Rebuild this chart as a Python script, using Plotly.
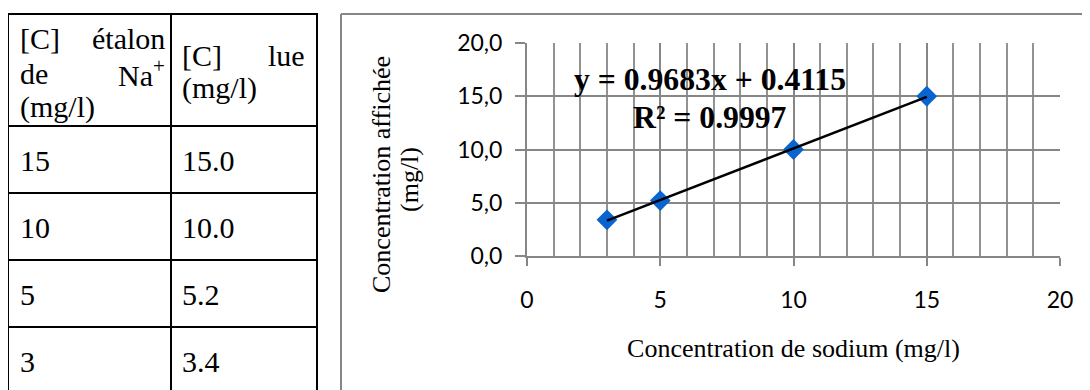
import numpy as np
import plotly.graph_objects as go

# ---------------- data ----------------
etalon = [15, 10, 5, 3]            # [C] étalon de Na+ (mg/l)
lue = [15.0, 10.0, 5.2, 3.4]       # [C] lue (mg/l)
x_ticks = [0, 5, 10, 15, 20]
y_ticks = [0, 5, 10, 15, 20]
x_title = "Concentration de sodium (mg/l)"
y_title_lines = ["Concentration affichée", "(mg/l)"]
hdr_col1 = [("[C]", "étalon"), ("de", "Na<sup>+</sup>"), ("(mg/l)", None)]
hdr_col2 = [("[C]", "lue"), ("(mg/l)", None)]

# ---------------- layout constants (pixels in the 1090x390 window) ----------------
PAGE_OFF = 8                      # default body margin of the html page
W, H = 1090 - PAGE_OFF, 390 - PAGE_OFF
def px(x):
    return (x - PAGE_OFF) / W
def py(y):
    return 1 - (y - PAGE_OFF) / H

SERIF = "Liberation Serif, Times New Roman, serif"
SANS = "Lato, Calibri, Carlito, sans-serif"
GRID = "#868686"
BLUE = "#0a64cf"

# regression (trendline) from the data
slope, intercept = np.polyfit(etalon, lue, 1)
pred = np.polyval([slope, intercept], etalon)
r2 = 1 - np.sum((np.array(lue) - pred) ** 2) / np.sum((np.array(lue) - np.mean(lue)) ** 2)
x_fit = [min(etalon), max(etalon)]
y_fit = [slope * v + intercept for v in x_fit]

fig = go.Figure()
fig.add_trace(go.Scatter(
    x=etalon, y=lue, mode="markers",
    marker=dict(symbol="diamond", size=16, color=BLUE, line=dict(width=0)),
    showlegend=False, hoverinfo="x+y"))
fig.add_trace(go.Scatter(
    x=x_fit, y=y_fit, mode="lines",
    line=dict(color="black", width=2.5), showlegend=False, hoverinfo="skip"))

# plot area
X0, X1, Y0, Y1 = 527, 1060, 43, 256
fig.update_layout(
    width=W, height=H,
    margin=dict(l=0, r=0, t=0, b=0),
    paper_bgcolor="white", plot_bgcolor="white",
    separators=", ",
    showlegend=False,
    xaxis=dict(
        domain=[px(X0), px(X1)], range=[0, 20], tickvals=x_ticks,
        showgrid=True, gridcolor=GRID, gridwidth=2,
        minor=dict(dtick=1, showgrid=True, gridcolor="#929292", gridwidth=1.6),
        showline=True, linecolor=GRID, linewidth=2, zeroline=False,
        ticks="outside", ticklen=8, tickwidth=2, tickcolor=GRID,
        tickfont=dict(family=SANS, size=23, color="black"),
        ticklabelstandoff=14, automargin=False,
        title=dict(text=x_title, font=dict(family=SERIF, size=26, color="black"), standoff=27),
    ),
    yaxis=dict(
        domain=[py(Y1), py(Y0)], range=[0, 20], tickvals=y_ticks, tickformat=".1f",
        showgrid=True, gridcolor=GRID, gridwidth=2,
        showline=True, linecolor=GRID, linewidth=2, zeroline=False,
        ticks="outside", ticklen=10, tickwidth=2, tickcolor=GRID,
        tickfont=dict(family=SANS, size=23, color="black"),
        ticklabelstandoff=8, automargin=False,
    ),
)

shapes = []
annos = []

# chart frame (gray)
shapes.append(dict(type="line", xref="paper", yref="paper", x0=px(341), x1=px(1095), y0=py(14), y1=py(14),
                   line=dict(color=GRID, width=2)))
shapes.append(dict(type="line", xref="paper", yref="paper", x0=px(341), x1=px(341), y0=py(14), y1=py(395),
                   line=dict(color=GRID, width=2)))

# y-axis title (two centred lines, rotated)
for txt, (cx, cy) in zip(y_title_lines, [(382, 175), (410, 180)]):
    annos.append(dict(xref="paper", yref="paper", x=px(cx), y=py(cy), xanchor="center", yanchor="middle",
                      text=txt, textangle=-90, showarrow=False, borderpad=0,
                      font=dict(family=SERIF, size=26, color="black")))

# equation annotation
annos.append(dict(xref="paper", yref="paper", x=px(710), y=py(80), xanchor="center", yanchor="middle",
                  text=f"<b>y = {slope:.4f}x + {intercept:.4f}</b>", showarrow=False, borderpad=0,
                  font=dict(family=SERIF, size=31.7, color="black")))
annos.append(dict(xref="paper", yref="paper", x=px(710), y=py(117), xanchor="center", yanchor="middle",
                  text=f"<b>R² = {r2:.4f}</b>", showarrow=False, borderpad=0,
                  font=dict(family=SERIF, size=31.7, color="black")))

# ---------------- table ----------------
TL, TM, TR = 8, 171, 317
TT, HB, RH = 14, 126, 67
n_rows = len(etalon)
tb = HB + RH * n_rows
for yy in [TT, HB] + [HB + RH * (i + 1) for i in range(n_rows)]:
    shapes.append(dict(type="line", xref="paper", yref="paper", x0=px(TL - 1), x1=px(TR + 1), y0=py(yy), y1=py(yy),
                       line=dict(color="black", width=2)))
for xx in [TL, TM, TR]:
    shapes.append(dict(type="line", xref="paper", yref="paper", x0=px(xx), x1=px(xx), y0=py(TT - 1), y1=py(tb + 1),
                       line=dict(color="black", width=2)))

TFONT = dict(family=SERIF, size=30, color="black")

def add_text(x, y, text, anchor):
    annos.append(dict(xref="paper", yref="paper", x=px(x), y=py(y), xanchor=anchor, yanchor="middle",
                      text=text, showarrow=False, borderpad=0, font=TFONT))

hdr1_centers = [38, 73, 107]
for (l, r), yc in zip(hdr_col1, hdr1_centers):
    add_text(TL + 11, yc, l, "left")
    if r:
        add_text(TM - 5, yc, r, "right")
hdr2_centers = [55, 88]
for (l, r), yc in zip(hdr_col2, hdr2_centers):
    add_text(TM + 10, yc, l, "left")
    if r:
        add_text(TR - 11, yc, r, "right")

for i, (a, b) in enumerate(zip(etalon, lue)):
    yc = HB + RH * i + RH / 2 + 0.5
    add_text(TL + 11, yc, f"{a}", "left")
    add_text(TM + 10, yc, f"{b:.1f}", "left")

fig.update_layout(shapes=shapes, annotations=annos)
fig.write_html("out.html")
